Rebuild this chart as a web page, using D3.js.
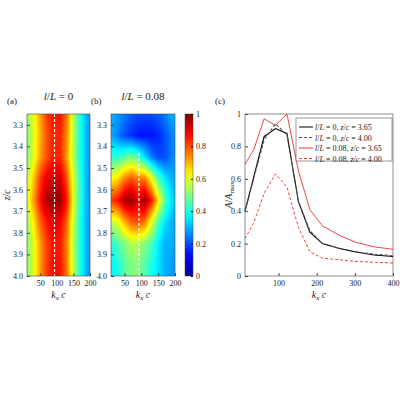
<!DOCTYPE html><html><head><meta charset="utf-8">
<script src="https://cdn.jsdelivr.net/npm/d3@7"></script>
<style>body{margin:0;background:#fff}text{font-family:"Liberation Serif",serif;font-size:9px;fill:#222}</style></head><body>
<svg id="c" width="400" height="400"></svg>
<script>
const gridKx=[10,30,50,70,90,110,130,150,170,190,200];
const gridZ=[3.25,3.35,3.45,3.55,3.65,3.75,3.85,3.95,4.0];
const heatA=[
[0.52,0.6,0.72,0.82,0.86,0.86,0.76,0.56,0.4,0.3,0.28],
[0.5,0.6,0.7,0.8,0.84,0.84,0.74,0.55,0.4,0.3,0.28],
[0.5,0.6,0.72,0.8,0.85,0.84,0.72,0.55,0.4,0.3,0.28],
[0.55,0.68,0.82,0.9,0.93,0.92,0.8,0.58,0.42,0.3,0.28],
[0.58,0.72,0.86,0.96,0.98,0.97,0.86,0.6,0.42,0.3,0.28],
[0.52,0.64,0.78,0.86,0.9,0.88,0.78,0.57,0.4,0.3,0.28],
[0.5,0.6,0.72,0.82,0.86,0.85,0.75,0.55,0.4,0.3,0.28],
[0.5,0.6,0.72,0.82,0.87,0.86,0.76,0.56,0.4,0.3,0.28],
[0.5,0.6,0.72,0.82,0.87,0.86,0.76,0.56,0.4,0.3,0.28]];
const heatB=[
[0.3,0.28,0.25,0.22,0.2,0.2,0.2,0.22,0.25,0.3,0.3],
[0.3,0.25,0.2,0.17,0.14,0.14,0.14,0.16,0.2,0.25,0.27],
[0.42,0.42,0.46,0.5,0.45,0.35,0.25,0.2,0.2,0.25,0.27],
[0.62,0.66,0.75,0.8,0.76,0.76,0.62,0.46,0.36,0.3,0.3],
[0.82,0.86,0.96,0.98,0.9,0.98,0.86,0.66,0.46,0.35,0.33],
[0.56,0.6,0.7,0.78,0.8,0.76,0.6,0.45,0.35,0.3,0.3],
[0.4,0.45,0.5,0.55,0.55,0.5,0.45,0.36,0.3,0.3,0.29],
[0.36,0.4,0.46,0.5,0.5,0.46,0.4,0.35,0.3,0.28,0.28],
[0.36,0.4,0.46,0.5,0.5,0.46,0.4,0.35,0.3,0.28,0.28]];
const kxLine=[12,62,92,122,152,182,215,260,300,350,400];
const blackSolid=[0.4,0.86,0.91,0.88,0.46,0.27,0.2,0.17,0.15,0.13,0.12];
const blackDash=[0.4,0.84,0.94,0.87,0.46,0.28,0.2,0.17,0.15,0.135,0.125];
const kxRed=[12,35,62,92,122,152,182,215,260,300,350,400];
const redSolid=[0.69,0.78,0.97,0.93,1.0,0.65,0.41,0.31,0.25,0.21,0.18,0.165];
const redDash=[0.23,0.33,0.51,0.63,0.55,0.3,0.15,0.11,0.1,0.09,0.085,0.08];
const legendLabels=["l/L = 0, z/c = 3.65","l/L = 0, z/c = 4.00","l/L = 0.08, z/c = 3.65","l/L = 0.08, z/c = 4.00"];

const svg=d3.select("#c");
const jet=d3.scaleLinear().domain([0,0.125,0.375,0.625,0.875,1])
 .range(["#00008f","#0000ff","#00ffff","#ffff00","#ff0000","#800000"]).clamp(true);
function bilin(grid,kx,z){
 let i=d3.bisectRight(gridKx,kx)-1;i=Math.max(0,Math.min(gridKx.length-2,i));
 let j=d3.bisectRight(gridZ,z)-1;j=Math.max(0,Math.min(gridZ.length-2,j));
 const tx=Math.max(0,Math.min(1,(kx-gridKx[i])/(gridKx[i+1]-gridKx[i])));
 const tz=Math.max(0,Math.min(1,(z-gridZ[j])/(gridZ[j+1]-gridZ[j])));
 return (grid[j][i]*(1-tx)+grid[j][i+1]*tx)*(1-tz)+(grid[j+1][i]*(1-tx)+grid[j+1][i+1]*tx)*tz;
}
const yTop=114,yBot=276;
const y=d3.scaleLinear().domain([3.25,4.0]).range([yTop,yBot]);
function heat(x0,x1,grid,title,lab,lineTop){
 const x=d3.scaleLinear().domain([10,200]).range([x0,x1]);
 const W=Math.round(x1-x0),H=yBot-yTop;
 const cv=document.createElement("canvas");cv.width=W;cv.height=H;
 const ctx=cv.getContext("2d");const img=ctx.createImageData(W,H);
 for(let py=0;py<H;py++)for(let px=0;px<W;px++){
  const c=d3.rgb(jet(bilin(grid,x.invert(x0+px+0.5),y.invert(yTop+py+0.5))));
  const k=4*(py*W+px);img.data[k]=c.r;img.data[k+1]=c.g;img.data[k+2]=c.b;img.data[k+3]=255;}
 ctx.putImageData(img,0,0);
 svg.append("image").attr("x",x0).attr("y",yTop).attr("width",W).attr("height",H).attr("href",cv.toDataURL());
 svg.append("line").attr("x1",x(93)).attr("x2",x(93)).attr("y1",y(lineTop)).attr("y2",yBot)
  .attr("stroke","#fff").attr("stroke-width",1.2).attr("stroke-dasharray","3,2");
 svg.append("rect").attr("x",x0).attr("y",yTop).attr("width",W).attr("height",H).attr("fill","none").attr("stroke","#444").attr("stroke-width",0.6);
 const gx=svg.append("g").attr("transform",`translate(0,${yBot})`).call(d3.axisBottom(x).tickValues([50,100,150,200]).tickSize(-3).tickPadding(4));
 const gy=svg.append("g").attr("transform",`translate(${x0},0)`).call(d3.axisLeft(y).tickValues(d3.range(3.3,4.01,0.1)).tickFormat(d3.format(".1f")).tickSize(-3).tickPadding(4));
 [gx,gy].forEach(g=>{g.select(".domain").remove();g.selectAll("line").attr("stroke","#444");g.selectAll("text").style("font-size","8px").style("font-family","Liberation Serif").attr("fill","#222");});
 svg.append("text").attr("x",(x0+x1)/2).attr("y",100).attr("text-anchor","middle").style("font-size","11px").html(title);
 svg.append("text").attr("x",x0-20).attr("y",104).text(lab);
 svg.append("text").attr("x",(x0+x1)/2).attr("y",298).attr("text-anchor","middle").style("font-size","10px").html('<tspan font-style="italic">k</tspan><tspan font-style="italic" dy="2" font-size="7">x</tspan><tspan dy="-2" font-style="italic"> c</tspan>');
}
heat(27,90,heatA,'<tspan font-style="italic">l</tspan>/<tspan font-style="italic">L</tspan> = 0',"(a)",3.25);
heat(111,175,heatB,'<tspan font-style="italic">l</tspan>/<tspan font-style="italic">L</tspan> = 0.08',"(b)",3.43);
svg.append("text").attr("transform","translate(10,195) rotate(-90)").attr("text-anchor","middle").style("font-size","10px").html('<tspan font-style="italic">z</tspan>/<tspan font-style="italic">c</tspan>');
const cb=svg.append("defs").append("linearGradient").attr("id","cb").attr("x1",0).attr("x2",0).attr("y1",1).attr("y2",0);
d3.range(0,1.001,0.05).forEach(t=>cb.append("stop").attr("offset",t).attr("stop-color",jet(t)));
svg.append("rect").attr("x",185).attr("y",yTop).attr("width",8).attr("height",yBot-yTop).attr("fill","url(#cb)").attr("stroke","#444").attr("stroke-width",0.5);
const yc=d3.scaleLinear().domain([0,1]).range([yBot,yTop]);
const gc=svg.append("g").attr("transform","translate(193,0)").call(d3.axisRight(yc).tickValues([0,0.2,0.4,0.6,0.8,1]).tickFormat(d=>d===0||d===1?d:d.toFixed(1)).tickSize(-2).tickPadding(3));
gc.select(".domain").remove();gc.selectAll("text").style("font-size","8px").style("font-family","Liberation Serif");
const xc=d3.scaleLinear().domain([12,400]).range([245,393]);
const yy=d3.scaleLinear().domain([0,1]).range([yBot,yTop]);
svg.append("rect").attr("x",245).attr("y",yTop).attr("width",148).attr("height",yBot-yTop).attr("fill","#fff");
const gxc=svg.append("g").attr("transform",`translate(0,${yBot})`).call(d3.axisBottom(xc).tickValues([100,200,300,400]).tickSize(-3).tickPadding(4));
const gyc=svg.append("g").attr("transform","translate(245,0)").call(d3.axisLeft(yy).tickValues([0,0.2,0.4,0.6,0.8,1]).tickFormat(d=>d===0||d===1?d:d.toFixed(1)).tickSize(-3).tickPadding(4));
[gxc,gyc].forEach(g=>{g.select(".domain").remove();g.selectAll("line").attr("stroke","#444");g.selectAll("text").style("font-size","8px").style("font-family","Liberation Serif");});
svg.append("rect").attr("x",245).attr("y",yTop).attr("width",148).attr("height",yBot-yTop).attr("fill","none").attr("stroke","#444").attr("stroke-width",0.6);
const ln=d3.line();
function series(xs,ys,col,dash,w){svg.append("path").attr("d",ln(xs.map((k,i)=>[xc(k),yy(ys[i])]))).attr("fill","none").attr("stroke",col).attr("stroke-width",w).attr("stroke-dasharray",dash);}
series(kxRed,redSolid,"#f03030",null,0.9);
series(kxRed,redDash,"#f03030","3,2",0.9);
series(kxLine,blackSolid,"#000",null,1.1);
series(kxLine,blackDash,"#555","3,2",1.1);
svg.append("text").attr("x",215).attr("y",104).text("(c)");
svg.append("text").attr("transform","translate(232,195) rotate(-90)").attr("text-anchor","middle").style("font-size","10px").html('<tspan font-style="italic">A</tspan>/<tspan font-style="italic">A</tspan><tspan font-size="7" dy="2">max</tspan>');
svg.append("text").attr("x",319).attr("y",298).attr("text-anchor","middle").style("font-size","10px").html('<tspan font-style="italic">k</tspan><tspan font-style="italic" dy="2" font-size="7">x</tspan><tspan dy="-2" font-style="italic"> c</tspan>');
const lg=svg.append("g");
lg.append("rect").attr("x",296).attr("y",118).attr("width",96).attr("height",43).attr("fill","#fff").attr("stroke","#555").attr("stroke-width",0.6);
const lc=[["#000",null],["#555","3,2"],["#f03030",null],["#f03030","3,2"]];
legendLabels.forEach((t,i)=>{const yl=127+i*10.5;
 lg.append("line").attr("x1",299).attr("x2",313).attr("y1",yl).attr("y2",yl).attr("stroke",lc[i][0]).attr("stroke-width",1).attr("stroke-dasharray",lc[i][1]);
 lg.append("text").attr("x",315).attr("y",yl+3).style("font-size","8px").html(t.replace(/(l|L|z|c)(?=[\/ ]|$)/g,'<tspan font-style="italic">$1</tspan>'));});
</script></body></html>
